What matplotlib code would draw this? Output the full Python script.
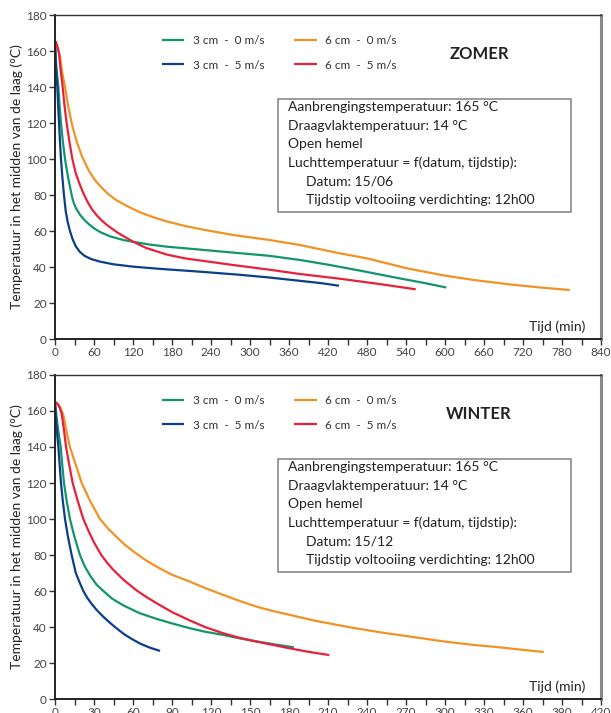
import matplotlib
matplotlib.use("Agg")
import matplotlib.pyplot as plt
from matplotlib.patches import Rectangle

plt.rcParams['font.family'] = ['Lato', 'DejaVu Sans']

# ---------------- data ----------------
series_labels = ["3 cm  -  0 m/s", "3 cm  -  5 m/s", "6 cm  -  0 m/s", "6 cm  -  5 m/s"]
colors = ["#12956c", "#0c3f8a", "#f39224", "#e8213b"]

# ZOMER (summer): time (min) and temperature (deg C)
zomer_t_3cm_0 = [0, 1, 2, 3.5, 5.1, 7, 9.2, 12, 15.4, 20, 25.6, 28, 32, 38.5, 45, 52, 60, 70, 85, 105, 120,
                 145, 172, 231, 274, 330, 377, 420, 469, 530, 570, 602]
zomer_T_3cm_0 = [165, 158, 152, 146, 140, 130, 120, 110, 100, 90, 80, 76.5, 72.8, 69, 66.2, 63.8, 61.5, 59.3, 57, 55, 54,
                 52.5, 51.3, 49.4, 48, 46.2, 43.9, 41.3, 38, 33.7, 31, 28.6]
zomer_t_3cm_5 = [0, 0.5, 1, 1.5, 2.5, 3.6, 4.8, 6.2, 7.6, 9.2, 11.3, 13.8, 16.5, 19.5, 23, 27, 32, 38, 45, 55,
                 69, 90, 120, 160, 223, 280, 326, 380, 410, 437]
zomer_T_3cm_5 = [165, 160, 155, 150, 145, 140, 130, 120, 110, 100, 90, 80, 71, 65, 60, 55.5, 51.5, 48.5, 46.3, 44.5,
                 43, 41.5, 40.2, 39, 37.4, 35.8, 34.3, 32.2, 31, 29.6]
zomer_t_6cm_0 = [0, 2, 4.5, 7.7, 11, 15.4, 20, 25.6, 33, 42, 52, 62, 72, 82, 95, 110, 130, 150, 172,
                 200, 230, 274, 330, 377, 438, 480, 541, 600, 644, 700, 750, 792]
zomer_T_6cm_0 = [165, 164.5, 161, 157, 148, 140, 130, 120, 110, 101, 93.5, 88, 84, 80.5, 77, 74, 70.5, 67.8, 65.3,
                 62.8, 60.6, 57.8, 55, 52.2, 47.6, 44.8, 39.3, 35.2, 32.8, 30.3, 28.5, 27.2]
zomer_t_6cm_5 = [0, 1.5, 3.5, 6.2, 8.5, 11.8, 14.5, 17.9, 22, 26.7, 32, 38, 43.6, 50, 57, 64, 72, 80, 95, 105,
                 120, 140, 172, 200, 230, 274, 330, 377, 438, 500, 555]
zomer_T_6cm_5 = [165, 165, 162.5, 158.7, 150, 140, 130, 120, 110, 100, 92, 86, 81, 76.2, 72, 68.8, 65.8, 63.3, 59.4, 57.2,
                 54.1, 50.6, 46.9, 44.8, 43.3, 41.1, 38.5, 36.1, 33.5, 30.5, 27.6]

# WINTER
winter_t_3cm_0 = [0, 1, 2.5, 4.4, 5.6, 6.9, 9, 11.5, 15, 19.2, 23, 27.5, 32, 37.2, 44, 52.6, 65, 78.2, 90,
                  103.8, 116, 129.5, 142, 155, 170, 183.8]
winter_T_3cm_0 = [165, 158, 149, 140, 130, 120, 110, 100, 90, 80, 73.5, 68, 63.5, 60, 55.7, 52, 47.7, 44.5, 42,
                  39.3, 37.3, 35.6, 33.7, 32, 30.2, 28.7]
winter_t_3cm_5 = [0, 0.5, 1, 1.8, 2.6, 3.6, 4.6, 6, 7.7, 10, 12.8, 16, 18.8, 21.8, 25, 28, 32, 37, 42, 47,
                  52.6, 58, 65.4, 73, 80.8]
winter_T_3cm_5 = [165, 158, 153, 146, 140, 130, 120, 110, 100, 90, 80, 70, 65, 60, 56, 53, 49.5, 45.8, 42.5, 39.5,
                  36.3, 33.8, 30.8, 28.5, 26.7]
winter_t_6cm_0 = [0, 2, 4, 6.4, 9, 11.5, 16, 20.5, 27, 34.6, 41, 47.4, 54, 60.3, 70, 78.2, 90, 103.8, 116,
                  129.5, 142, 155, 168, 180.8, 200, 227, 255, 270, 301, 320, 342, 360, 376]
winter_T_6cm_0 = [165, 164, 162, 157.8, 148, 140, 130, 120, 110, 100, 94.5, 90, 85.5, 82, 77, 73.5, 69, 65.2, 61.5,
                  57.8, 54.5, 51.3, 48.8, 46.7, 43.5, 39.8, 36.5, 35, 31.8, 30.2, 28.7, 27.3, 26.1]
winter_t_6cm_5 = [0, 2, 3.5, 5.1, 6.8, 8.5, 11, 13.6, 17.5, 21.8, 26, 30, 35.6, 40, 44.5, 52.6, 62.8, 70, 78.2,
                  90, 103.8, 116, 129.5, 142, 155, 168, 180.8, 195, 211]
winter_T_6cm_5 = [165, 164, 162, 158.7, 150, 140, 130, 120, 110, 100, 93, 87, 80, 75.8, 72, 66.3, 60.3, 56.8, 53.2,
                  48.3, 43.6, 39.8, 36.5, 34, 31.9, 30, 28.1, 26.2, 24.4]

zomer_xticks = list(range(0, 841, 60))
winter_xticks = list(range(0, 421, 30))
yticks = list(range(0, 181, 20))

info_common = ["Aanbrengingstemperatuur: 165 \u00b0C", "Draagvlaktemperatuur: 14 \u00b0C", "Open hemel",
               "Luchttemperatuur = f(datum, tijdstip):"]
info_zomer = ["Datum: 15/06", "Tijdstip voltooiing verdichting: 12h00"]
info_winter = ["Datum: 15/12", "Tijdstip voltooiing verdichting: 12h00"]

ylabel = "Temperatuur in het midden van de laag (\u00b0C)"
xlabel = "Tijd (min)"

# ---------------- figure ----------------
W, H = 611, 713
fig = plt.figure(figsize=(W / 100, H / 100), dpi=100)


def fx(x):
    return x / W


def fy(y):
    return 1 - y / H


def make_panel(top_px, bottom_px, xmax, xticks, curves, title, info_extra):
    ax = fig.add_axes([fx(55), fy(bottom_px), fx(601) - fx(55), fy(top_px) - fy(bottom_px)])
    for (t, T), c, lab in zip(curves, colors, series_labels):
        ax.plot(t, T, color=c, lw=1.6, label=lab, solid_capstyle='butt', solid_joinstyle='round')
    ax.set_xlim(0, xmax)
    ax.set_ylim(0, 180)
    ax.set_xticks(xticks)
    step = xticks[1] - xticks[0]
    ax.set_xticks([v + step / 2 for v in xticks[:-1]], minor=True)
    ax.set_yticks(yticks)
    ax.tick_params(axis='both', which='both', direction='out', length=4, width=1, color='#333333',
                   labelsize=8.5, labelcolor='#444444', pad=2)
    for s in ['left', 'bottom']:
        ax.spines[s].set_color('#222222')
        ax.spines[s].set_linewidth(1.4)
    ax.spines['top'].set_color('#333333')
    ax.spines['top'].set_linewidth(1.0)
    ax.spines['right'].set_color('#8a8a8a')
    ax.spines['right'].set_linewidth(2.2)
    ax.set_ylabel(ylabel, fontsize=10, color='#222222', labelpad=2.5)
    fig.text(fx(585), fy(top_px + 312), xlabel, ha='right', va='center', fontsize=10, color='#222222')
    # legend
    leg = ax.legend(ncol=2, frameon=False, fontsize=8.5, handlelength=1.9, handletextpad=0.7,
                    columnspacing=2.55, labelspacing=1.15,
                    loc='upper left', bbox_to_anchor=(fx(162), fy(top_px + 20)),
                    bbox_transform=fig.transFigure, borderpad=0, borderaxespad=0)
    for txt in leg.get_texts():
        txt.set_color('#333333')
    # title
    fig.text(fx(479), fy(top_px + 39), title, ha='center', va='center', fontsize=12,
             fontweight='bold', color='#222222')
    # info box
    box_l, box_r = 278, 571
    box_t, box_b = top_px + 84, top_px + 197
    fig.patches.append(Rectangle((fx(box_l), fy(box_b)), fx(box_r) - fx(box_l), fy(box_t) - fy(box_b),
                                 transform=fig.transFigure, fill=True, facecolor='white',
                                 edgecolor='#8a8a8a', lw=1.2, zorder=5))
    lines = info_common + info_extra
    for i, line in enumerate(lines):
        x = 288 if i < 4 else 306
        fig.text(fx(x), fy(top_px + 92 + i * 18.5), line, ha='left', va='center', fontsize=10,
                 color='#222222', zorder=6)
    return ax


ax1 = make_panel(15, 339, 840, zomer_xticks,
                 [(zomer_t_3cm_0, zomer_T_3cm_0), (zomer_t_3cm_5, zomer_T_3cm_5),
                  (zomer_t_6cm_0, zomer_T_6cm_0), (zomer_t_6cm_5, zomer_T_6cm_5)],
                 "ZOMER", info_zomer)
ax2 = make_panel(375, 699, 420, winter_xticks,
                 [(winter_t_3cm_0, winter_T_3cm_0), (winter_t_3cm_5, winter_T_3cm_5),
                  (winter_t_6cm_0, winter_T_6cm_0), (winter_t_6cm_5, winter_T_6cm_5)],
                 "WINTER", info_winter)

fig.savefig("out.png", dpi=100)
